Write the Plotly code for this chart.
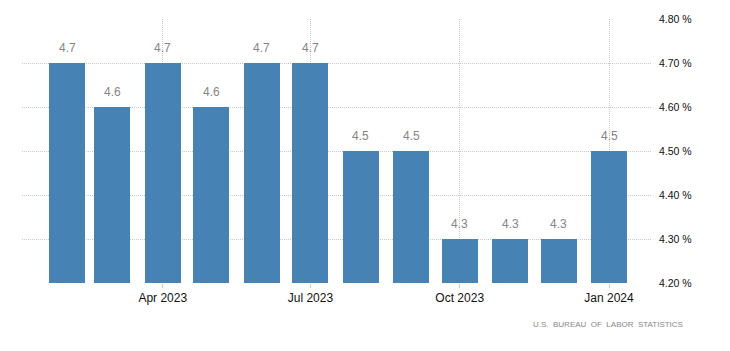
import plotly.graph_objects as go

months = ["2023-02-01", "2023-03-01", "2023-04-01", "2023-05-01", "2023-06-01", "2023-07-01",
          "2023-08-01", "2023-09-01", "2023-10-01", "2023-11-01", "2023-12-01", "2024-01-01"]
values = [4.7, 4.6, 4.7, 4.6, 4.7, 4.7, 4.5, 4.5, 4.3, 4.3, 4.3, 4.5]
labels = ["4.7", "4.6", "4.7", "4.6", "4.7", "4.7", "4.5", "4.5", "4.3", "4.3", "4.3", "4.5"]
source = "U.S.  BUREAU  OF  LABOR  STATISTICS"

DAY_MS = 86400000
bar_width = 22.2 * DAY_MS
FONT = "Liberation Sans, Arial, sans-serif"

fig = go.Figure()
fig.add_trace(go.Bar(
    x=months, y=values, width=[bar_width] * len(months),
    marker=dict(color="#4682B4", line=dict(width=0)),
    hoverinfo="x+y",
))

for m, v, t in zip(months, values, labels):
    fig.add_annotation(x=m, y=v, text=t, showarrow=False, yanchor="bottom", yshift=6,
                       font=dict(family=FONT, size=12, color="#858585"))

fig.add_annotation(xref="paper", yref="paper", x=1.052, y=-0.159, xanchor="right", yanchor="middle",
                   text=source, showarrow=False,
                   font=dict(family=FONT, size=8, color="#888888"))

fig.update_layout(
    width=730, height=351,
    margin=dict(l=22, r=78, t=19, b=68),
    paper_bgcolor="white", plot_bgcolor="white",
    showlegend=False,
    bargap=0,
    font=dict(family=FONT, size=11, color="#222222"),
    xaxis=dict(
        type="date",
        range=["2023-01-04 06:00", "2024-01-27 12:00"],
        tick0="2023-01-01", dtick="M3", tickformat="%b %Y",
        showgrid=True, gridcolor="#c8c8c8", griddash="1px,1px", gridwidth=1,
        ticks="outside", ticklen=4, tickcolor="#c8c8c8",
        showline=False, zeroline=False,
        tickfont=dict(size=12, color="#111111"),
    ),
    yaxis=dict(
        side="right",
        range=[4.2, 4.8], dtick=0.1, tick0=4.2,
        tickformat=".2f", ticksuffix=" %",
        showgrid=True, gridcolor="#c8c8c8", griddash="1px,1px", gridwidth=1,
        zeroline=False, showline=False,
        ticks="", ticklabelstandoff=6,
        tickfont=dict(size=10.5, color="#111111"),
    ),
)

fig.write_html("out.html")
